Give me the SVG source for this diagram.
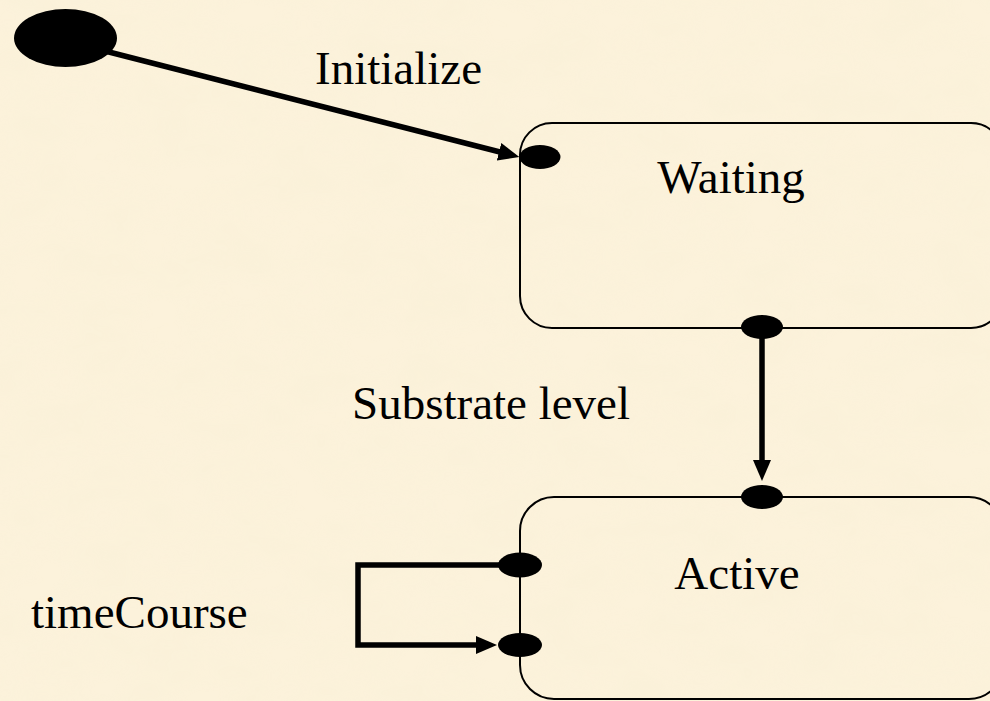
<svg xmlns="http://www.w3.org/2000/svg" width="990" height="701" viewBox="0 0 990 701">
  <defs>
    <filter id="paper" x="0" y="0" width="100%" height="100%">
      <feTurbulence type="fractalNoise" baseFrequency="0.015 0.025" numOctaves="3" seed="7" result="n"/>
      <feColorMatrix in="n" type="matrix" values="0 0 0 0 0.92  0 0 0 0 0.86  0 0 0 0 0.66  0 0 0 0.9 -0.25"/>
    </filter>
    <marker id="arrow" markerUnits="userSpaceOnUse" markerWidth="22" markerHeight="20" refX="1" refY="9" orient="auto" viewBox="0 0 22 20">
      <path d="M0,0 L21,9 L0,18 z" fill="#000"/>
    </marker>
    <style>
      .lbl { font-family: "Liberation Serif", "Times New Roman", serif; font-size: 47px; fill: #000; }
      .box { fill: none; stroke: #000; stroke-width: 2; }
      .dot { fill: #000; }
      .conn { fill: none; stroke: #000; stroke-width: 5.5; stroke-linejoin: miter; }
    </style>
  </defs>

  <rect x="0" y="0" width="990" height="701" fill="#FCF2DB"/>
  <rect x="0" y="0" width="990" height="701" filter="url(#paper)" opacity="0.5"/>

  <g id="start">
    <ellipse cx="65.5" cy="38" rx="51.5" ry="29" class="dot"/>
  </g>

  <g id="waiting">
    <rect x="520" y="123" width="483" height="205" rx="32" ry="32" class="box"/>
    <text x="731" y="193" text-anchor="middle" class="lbl">Waiting</text>
    <ellipse cx="540" cy="157" rx="20.5" ry="12" class="dot"/>
    <ellipse cx="762" cy="327" rx="21" ry="12" class="dot"/>
  </g>

  <g id="active">
    <rect x="520" y="497" width="483" height="202" rx="34" ry="34" class="box"/>
    <text x="737" y="589" text-anchor="middle" class="lbl">Active</text>
    <ellipse cx="762" cy="497" rx="21" ry="12" class="dot"/>
    <ellipse cx="520" cy="565" rx="22" ry="12.5" class="dot"/>
    <ellipse cx="520" cy="645" rx="22" ry="12" class="dot"/>
  </g>

  <g id="connectors">
    <line x1="105" y1="51" x2="500" y2="152" class="conn" marker-end="url(#arrow)"/>
    <line x1="762" y1="336" x2="762" y2="461" class="conn" marker-end="url(#arrow)"/>
    <path d="M500,565 H358 V645 H477" class="conn" marker-end="url(#arrow)"/>
  </g>

  <g id="labels">
    <text x="315" y="84" class="lbl">Initialize</text>
    <text x="352" y="419" class="lbl">Substrate level</text>
    <text x="31" y="628" class="lbl">timeCourse</text>
  </g>
</svg>
